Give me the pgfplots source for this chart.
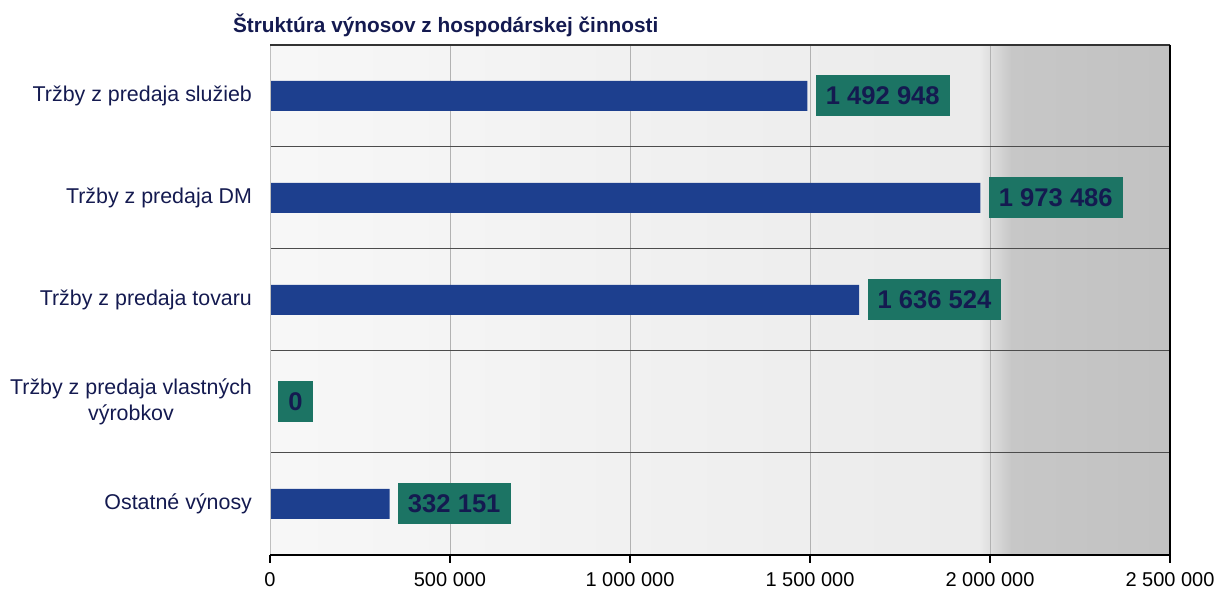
\documentclass[border=0pt]{standalone}
\usepackage{pgfplots}
\pgfplotsset{compat=1.18}
\usepackage{fontspec}
\setmainfont{Liberation Sans}
\usetikzlibrary{calc}
\definecolor{barblue}{HTML}{1D3F8E}
\definecolor{lblteal}{HTML}{1C7464}
\definecolor{navytxt}{HTML}{141A50}

\begin{document}
\begin{tikzpicture}
\begin{axis}[
  set layers,
  scale only axis,
  width=450pt, height=255pt,
  clip=false,
  xbar, bar width=15pt,
  xmin=0, xmax=2500000,
  ymin=-0.5, ymax=4.5, y dir=reverse,
  ytick={0,1,2,3,4},
  yticklabels={Tržby z predaja služieb, Tržby z predaja DM, Tržby z predaja tovaru, {Tržby z predaja vlastných\\výrobkov}, Ostatné výnosy},
  yticklabel style={align=center, font=\fontsize{10.7}{13}\selectfont, text=navytxt, xshift=-1.5pt},
  ytick style={draw=none},
  minor ytick={0.5,1.5,2.5,3.5},
  yminorgrids=true,
  minor y grid style={gray!60!black, line width=0.5pt},
  xtick={0,500000,1000000,1500000,2000000,2500000},
  xticklabels={0, 500 000, 1 000 000, 1 500 000, 2 000 000, 2 500 000},
  scaled x ticks=false,
  xmajorgrids=true,
  major x grid style={gray!60, line width=0.3pt},
  xtick pos=bottom, tick align=outside, major tick length=4pt,
  xtick style={black, line width=0.6pt},
  xticklabel style={font=\fontsize{10}{12}\selectfont, yshift=-1pt},
  axis line style={draw=none},
  point meta=explicit symbolic,
  nodes near coords={\pgfplotspointmeta},
  every node near coord/.append style={anchor=west, xshift=4pt, fill=lblteal, text=navytxt,
    font=\bfseries\fontsize{12.8}{14}\selectfont, inner xsep=5pt, minimum height=20.5pt},
]
\begin{pgfonlayer}{axis background}
\fill[left color=gray!6, right color=gray!16] (axis cs:0,-0.5) rectangle (axis cs:1970000,4.5);
\fill[left color=gray!16, right color=gray!44] (axis cs:1970000,-0.5) rectangle (axis cs:2060000,4.5);
\fill[left color=gray!44, right color=gray!48] (axis cs:2060000,-0.5) rectangle (axis cs:2500000,4.5);
\end{pgfonlayer}

\addplot[fill=barblue, draw=none] coordinates {
  (1492948,0) [1 492 948]
  (1973486,1) [1 973 486]
  (1636524,2) [1 636 524]
  (0,3) [0]
  (332151,4) [332 151]
};

\draw[gray!50, line width=0.4pt] (axis description cs:0,0) -- (axis description cs:0,1);
\draw[gray!40!black, line width=0.8pt] (axis description cs:0,1) -- (axis description cs:1,1);
\draw[black, line width=1pt] (axis description cs:0,0) -- (axis description cs:1,0) -- (axis description cs:1,1);
\node[anchor=base west, xshift=-22pt, yshift=6pt, font=\bfseries\fontsize{10.4}{12}\selectfont, text=navytxt]
  at (axis description cs:0,1) {Štruktúra výnosov z hospodárskej činnosti};
\coordinate (sw) at (axis description cs:0,0);
\coordinate (ne) at (axis description cs:1,1);
\end{axis}
\pgfresetboundingbox
\path[use as bounding box] ($(sw)+(-135pt,-18pt)$) rectangle ($(ne)+(24pt,22.5pt)$);
\end{tikzpicture}
\end{document}
